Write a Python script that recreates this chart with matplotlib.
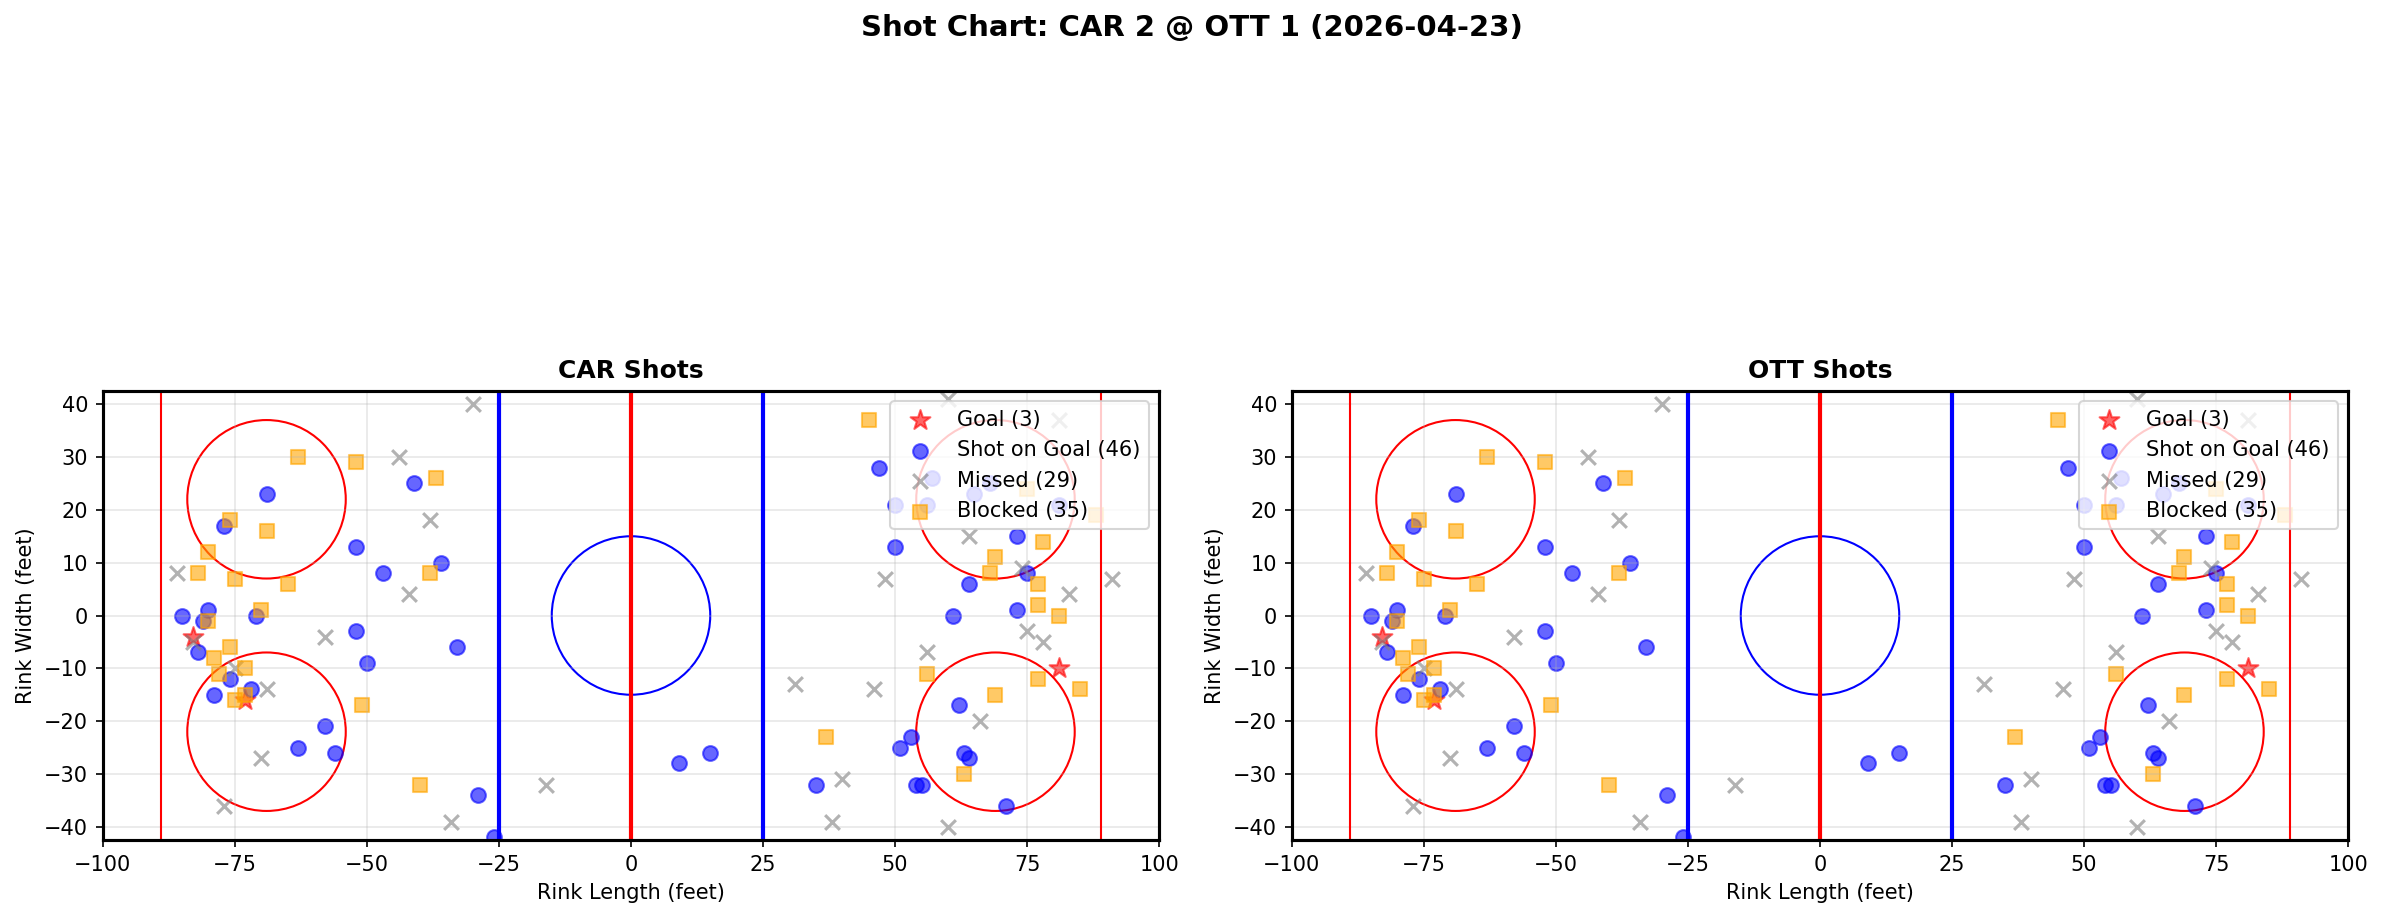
import matplotlib
matplotlib.use('Agg')
import matplotlib.pyplot as plt

# Shot data (feet) - both panels in the reference show the same shots
goal_x = [-83, -73, 81]
goal_y = [-4, -16, -10]

sog_x = [-69, -77, -52, -85, -80, -81, -71, -52, -82, -50, -76, -72, -79, -58, -63, -56,
         -41, -36, -47, -33, -29, -26,
         9, 15, 47, 50, 50, 35, 51,
         57, 65, 68, 56, 81, 73, 75, 64, 61, 73, 62, 53, 63, 64, 54, 55, 71]
sog_y = [23, 17, 13, 0, 1, -1, 0, -3, -7, -9, -12, -14, -15, -21, -25, -26,
         25, 10, 8, -6, -34, -42,
         -28, -26, 28, 21, 13, -32, -25,
         26, 23, 25, 21, 21, 15, 8, 6, 0, 1, -17, -23, -26, -27, -32, -32, -36]

miss_x = [-86, -58, -83, -75, -69, -70, -77,
          -30, -44, -38, -42, -16, -34,
          48, 31, 46, 40, 38,
          60, 81, 64, 74, 91, 83, 75, 78, 56, 66, 60]
miss_y = [8, -4, -5, -10, -14, -27, -36,
          40, 30, 18, 4, -32, -39,
          7, -13, -14, -31, -39,
          41, 37, 15, 9, 7, 4, -3, -5, -7, -20, -40]

block_x = [-63, -52, -76, -69, -80, -82, -75, -65, -70, -80, -76, -79, -78, -73, -73, -75, -51,
           -37, -38, -40,
           45, 37,
           75, 88, 78, 69, 68, 77, 77, 81, 56, 77, 85, 69, 63]
block_y = [30, 29, 18, 16, 12, 8, 7, 6, 1, -1, -6, -8, -11, -10, -15, -16, -17,
           26, 8, -32,
           37, -23,
           24, 19, 14, 11, 8, 6, 2, 0, -11, -12, -14, -15, -30]

teams = ['CAR', 'OTT']
title = 'Shot Chart: CAR 2 @ OTT 1 (2026-04-23)'

fig = plt.figure(figsize=(2383 / 150, 919 / 150), dpi=150)
fig.suptitle(title, fontsize=14, fontweight='bold', y=0.985)

lefts = [102 / 2383, 1291 / 2383]
for team, left in zip(teams, lefts):
    ax = fig.add_axes([left, 79 / 919, 1058 / 2383, 449 / 919])

    # rink markings
    ax.axvline(0, color='red', lw=2)
    ax.axvline(-25, color='blue', lw=2)
    ax.axvline(25, color='blue', lw=2)
    ax.axvline(-89, color='red', lw=1)
    ax.axvline(89, color='red', lw=1)
    ax.add_patch(plt.Circle((0, 0), 15, fill=False, color='blue', lw=1))
    for cx in (-69, 69):
        for cy in (-22, 22):
            ax.add_patch(plt.Circle((cx, cy), 15, fill=False, color='red', lw=1))

    ax.scatter(goal_x, goal_y, marker='*', s=100, c='red', alpha=0.6,
               label=f'Goal ({len(goal_x)})')
    ax.scatter(sog_x, sog_y, marker='o', s=50, c='blue', alpha=0.6,
               label=f'Shot on Goal ({len(sog_x)})')
    ax.scatter(miss_x, miss_y, marker='x', s=50, c='gray', alpha=0.6,
               label=f'Missed ({len(miss_x)})')
    ax.scatter(block_x, block_y, marker='s', s=50, c='orange', alpha=0.6,
               label=f'Blocked ({len(block_x)})')

    ax.set_xlim(-100, 100)
    ax.set_ylim(-42.5, 42.5)
    ax.set_aspect('equal')
    ax.set_xlabel('Rink Length (feet)')
    ax.set_ylabel('Rink Width (feet)')
    ax.set_title(f'{team} Shots', fontsize=12, fontweight='bold')
    ax.grid(True, alpha=0.3)
    ax.legend(loc='upper right')
    for sp in ax.spines.values():
        sp.set_linewidth(1.5)

fig.savefig('out.png', dpi=150)
